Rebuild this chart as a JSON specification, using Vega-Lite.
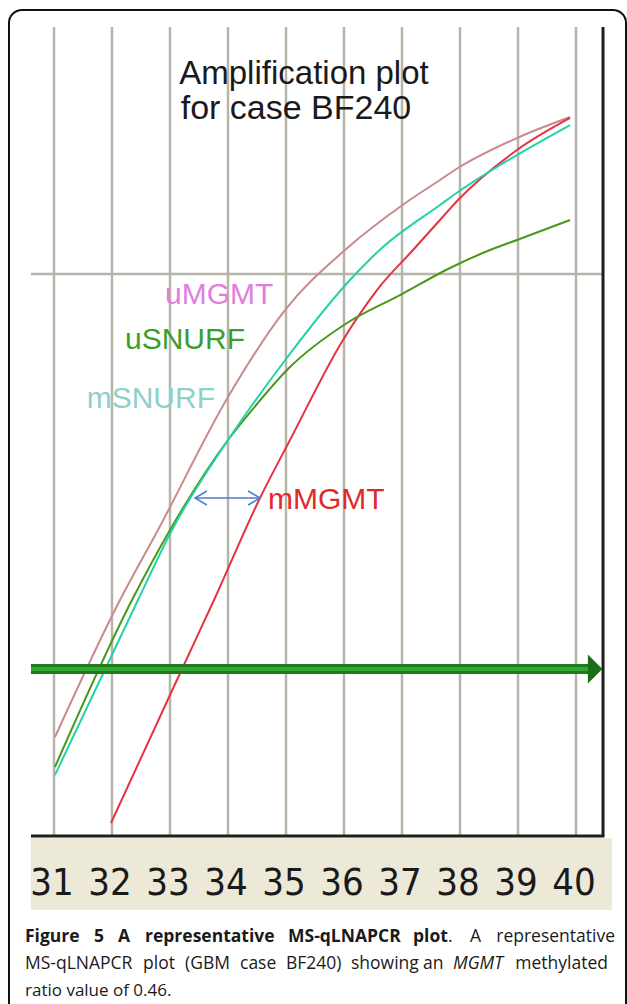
{
  "$schema": "https://vega.github.io/schema/vega-lite/v6.json",
  "width": 627,
  "height": 1004,
  "autosize": "none",
  "padding": 0,
  "background": "white",
  "config": {"view": {"stroke": null}},
  "datasets": {
    "curves": [
      {"series": "uMGMT", "cycle": 31.017, "value": 1.762},
      {"series": "uMGMT", "cycle": 32.138, "value": 4.199},
      {"series": "uMGMT", "cycle": 32.793, "value": 5.445},
      {"series": "uMGMT", "cycle": 34.0, "value": 7.811},
      {"series": "uMGMT", "cycle": 34.983, "value": 9.359},
      {"series": "uMGMT", "cycle": 36.017, "value": 10.427},
      {"series": "uMGMT", "cycle": 37.034, "value": 11.246},
      {"series": "uMGMT", "cycle": 37.655, "value": 11.673},
      {"series": "uMGMT", "cycle": 37.966, "value": 11.886},
      {"series": "uMGMT", "cycle": 38.983, "value": 12.42},
      {"series": "uMGMT", "cycle": 39.897, "value": 12.794},
      {"series": "mMGMT", "cycle": 31.983, "value": 0.231},
      {"series": "mMGMT", "cycle": 33.207, "value": 2.972},
      {"series": "mMGMT", "cycle": 33.759, "value": 4.199},
      {"series": "mMGMT", "cycle": 34.552, "value": 6.014},
      {"series": "mMGMT", "cycle": 35.069, "value": 7.046},
      {"series": "mMGMT", "cycle": 35.983, "value": 8.826},
      {"series": "mMGMT", "cycle": 36.569, "value": 9.715},
      {"series": "mMGMT", "cycle": 37.19, "value": 10.427},
      {"series": "mMGMT", "cycle": 37.655, "value": 10.961},
      {"series": "mMGMT", "cycle": 37.966, "value": 11.317},
      {"series": "mMGMT", "cycle": 38.983, "value": 12.206},
      {"series": "mMGMT", "cycle": 39.897, "value": 12.776},
      {"series": "uSNURF", "cycle": 31.017, "value": 1.228},
      {"series": "uSNURF", "cycle": 32.345, "value": 4.199},
      {"series": "uSNURF", "cycle": 33.0, "value": 5.445},
      {"series": "uSNURF", "cycle": 34.0, "value": 7.046},
      {"series": "uSNURF", "cycle": 34.5, "value": 7.687},
      {"series": "uSNURF", "cycle": 35.017, "value": 8.292},
      {"series": "uSNURF", "cycle": 36.052, "value": 9.128},
      {"series": "uSNURF", "cycle": 36.966, "value": 9.626},
      {"series": "uSNURF", "cycle": 37.828, "value": 10.107},
      {"series": "uSNURF", "cycle": 38.517, "value": 10.427},
      {"series": "uSNURF", "cycle": 38.983, "value": 10.605},
      {"series": "uSNURF", "cycle": 39.897, "value": 10.961},
      {"series": "mSNURF", "cycle": 31.017, "value": 1.085},
      {"series": "mSNURF", "cycle": 32.448, "value": 4.199},
      {"series": "mSNURF", "cycle": 33.034, "value": 5.445},
      {"series": "mSNURF", "cycle": 34.0, "value": 7.046},
      {"series": "mSNURF", "cycle": 34.948, "value": 8.416},
      {"series": "mSNURF", "cycle": 36.103, "value": 9.893},
      {"series": "mSNURF", "cycle": 36.672, "value": 10.48},
      {"series": "mSNURF", "cycle": 37.655, "value": 11.228},
      {"series": "mSNURF", "cycle": 37.966, "value": 11.459},
      {"series": "mSNURF", "cycle": 38.983, "value": 12.117},
      {"series": "mSNURF", "cycle": 39.897, "value": 12.651}
    ],
    "ticks": [
      {"cycle": 31}, {"cycle": 32}, {"cycle": 33}, {"cycle": 34}, {"cycle": 35},
      {"cycle": 36}, {"cycle": 37}, {"cycle": 38}, {"cycle": 39}, {"cycle": 40}
    ]
  },
  "layer": [
    {
      "data": {"values": [{}]},
      "mark": {"type": "rect", "color": "#ece9d8"},
      "encoding": {
        "x": {"datum": 30.603, "scale": {"domain": [30.06897, 40.87931], "nice": false, "zero": false}, "axis": null},
        "x2": {"datum": 40.621},
        "y": {"datum": -0.036, "scale": {"domain": [-2.98932, 14.87544], "nice": false, "zero": false}, "axis": null},
        "y2": {"datum": -1.317}
      }
    },
    {
      "data": {"name": "ticks"},
      "mark": {"type": "rule", "color": "#b6b5aa", "strokeWidth": 2.5},
      "encoding": {
        "x": {"field": "cycle", "type": "quantitative", "scale": {"domain": [30.06897, 40.87931], "nice": false, "zero": false}, "axis": null},
        "y": {"datum": 0, "scale": {"domain": [-2.98932, 14.87544], "nice": false, "zero": false}, "axis": null},
        "y2": {"datum": 14.395}
      }
    },
    {
      "data": {"values": [{}]},
      "mark": {"type": "rule", "color": "#b6b5aa", "strokeWidth": 2.5},
      "encoding": {
        "x": {"datum": 30.603, "scale": {"domain": [30.06897, 40.87931], "nice": false, "zero": false}, "axis": null},
        "x2": {"datum": 40.466},
        "y": {"datum": 10, "scale": {"domain": [-2.98932, 14.87544], "nice": false, "zero": false}, "axis": null}
      }
    },
    {
      "data": {"values": [{}]},
      "mark": {"type": "rule", "color": "#1e1e1e", "strokeWidth": 3},
      "encoding": {
        "x": {"datum": 30.603, "scale": {"domain": [30.06897, 40.87931], "nice": false, "zero": false}, "axis": null},
        "x2": {"datum": 40.49},
        "y": {"datum": 0, "scale": {"domain": [-2.98932, 14.87544], "nice": false, "zero": false}, "axis": null}
      }
    },
    {
      "data": {"values": [{}]},
      "mark": {"type": "rule", "color": "#1e1e1e", "strokeWidth": 3},
      "encoding": {
        "x": {"datum": 40.466, "scale": {"domain": [30.06897, 40.87931], "nice": false, "zero": false}, "axis": null},
        "y": {"datum": 0, "scale": {"domain": [-2.98932, 14.87544], "nice": false, "zero": false}, "axis": null},
        "y2": {"datum": 14.395}
      }
    },
    {
      "data": {"name": "curves"},
      "mark": {"type": "line", "strokeWidth": 2, "interpolate": "monotone"},
      "encoding": {
        "x": {"field": "cycle", "type": "quantitative", "scale": {"domain": [30.06897, 40.87931], "nice": false, "zero": false}, "axis": null},
        "y": {"field": "value", "type": "quantitative", "scale": {"domain": [-2.98932, 14.87544], "nice": false, "zero": false}, "axis": null},
        "color": {"field": "series", "type": "nominal", "scale": {"domain": ["uMGMT", "mMGMT", "uSNURF", "mSNURF"], "range": ["#c98a8c", "#e63242", "#4a981a", "#22d2a8"]}, "legend": null}
      }
    },
    {
      "data": {"values": [{}]},
      "mark": {"type": "rule", "color": "#1d7a1d", "strokeWidth": 10},
      "encoding": {
        "x": {"datum": 30.603, "scale": {"domain": [30.06897, 40.87931], "nice": false, "zero": false}, "axis": null},
        "x2": {"datum": 40.276},
        "y": {"datum": 2.972, "scale": {"domain": [-2.98932, 14.87544], "nice": false, "zero": false}, "axis": null}
      }
    },
    {
      "data": {"values": [{}]},
      "mark": {"type": "rule", "color": "#34a834", "strokeWidth": 4},
      "encoding": {
        "x": {"datum": 30.603, "scale": {"domain": [30.06897, 40.87931], "nice": false, "zero": false}, "axis": null},
        "x2": {"datum": 40.25},
        "y": {"datum": 2.972, "scale": {"domain": [-2.98932, 14.87544], "nice": false, "zero": false}, "axis": null}
      }
    },
    {
      "data": {"values": [{}]},
      "mark": {"type": "point", "shape": "M -0.5 -1 L 0.5 0 L -0.5 1 Z", "filled": true, "color": "#1a6e1a", "opacity": 1, "size": 841},
      "encoding": {
        "x": {"datum": 40.33, "scale": {"domain": [30.06897, 40.87931], "nice": false, "zero": false}, "axis": null},
        "y": {"datum": 2.972, "scale": {"domain": [-2.98932, 14.87544], "nice": false, "zero": false}, "axis": null}
      }
    },
    {
      "data": {"values": [{}]},
      "mark": {"type": "rule", "color": "#4a7cc8", "strokeWidth": 1.5},
      "encoding": {
        "x": {"datum": 33.431, "scale": {"domain": [30.06897, 40.87931], "nice": false, "zero": false}, "axis": null},
        "x2": {"datum": 34.552},
        "y": {"datum": 6.014, "scale": {"domain": [-2.98932, 14.87544], "nice": false, "zero": false}, "axis": null}
      }
    },
    {
      "data": {"values": [{}]},
      "mark": {"type": "point", "shape": "M 1.7 -1 L 0 0 L 1.7 1", "filled": false, "color": "#4a7cc8", "opacity": 1, "strokeWidth": 1.5, "size": 196},
      "encoding": {
        "x": {"datum": 33.431, "scale": {"domain": [30.06897, 40.87931], "nice": false, "zero": false}, "axis": null},
        "y": {"datum": 6.014, "scale": {"domain": [-2.98932, 14.87544], "nice": false, "zero": false}, "axis": null}
      }
    },
    {
      "data": {"values": [{}]},
      "mark": {"type": "point", "shape": "M -1.7 -1 L 0 0 L -1.7 1", "filled": false, "color": "#4a7cc8", "opacity": 1, "strokeWidth": 1.5, "size": 196},
      "encoding": {
        "x": {"datum": 34.552, "scale": {"domain": [30.06897, 40.87931], "nice": false, "zero": false}, "axis": null},
        "y": {"datum": 6.014, "scale": {"domain": [-2.98932, 14.87544], "nice": false, "zero": false}, "axis": null}
      }
    },
    {
      "data": {"values": [{}]},
      "mark": {"type": "text", "text": "Amplification plot", "font": "Liberation Sans", "fontSize": 33, "color": "#1a1a1a", "align": "center", "baseline": "alphabetic"},
      "encoding": {
        "x": {"datum": 35.31, "scale": {"domain": [30.06897, 40.87931], "nice": false, "zero": false}, "axis": null},
        "y": {"datum": 13.381, "scale": {"domain": [-2.98932, 14.87544], "nice": false, "zero": false}, "axis": null}
      }
    },
    {
      "data": {"values": [{}]},
      "mark": {"type": "text", "text": "for case BF240", "font": "Liberation Sans", "fontSize": 34, "color": "#1a1a1a", "align": "center", "baseline": "alphabetic"},
      "encoding": {
        "x": {"datum": 35.172, "scale": {"domain": [30.06897, 40.87931], "nice": false, "zero": false}, "axis": null},
        "y": {"datum": 12.758, "scale": {"domain": [-2.98932, 14.87544], "nice": false, "zero": false}, "axis": null}
      }
    },
    {
      "data": {"values": [{}]},
      "mark": {"type": "text", "text": "uMGMT", "font": "Liberation Sans", "fontSize": 30, "color": "#e07ee0", "align": "left", "baseline": "alphabetic"},
      "encoding": {
        "x": {"datum": 32.914, "scale": {"domain": [30.06897, 40.87931], "nice": false, "zero": false}, "axis": null},
        "y": {"datum": 9.466, "scale": {"domain": [-2.98932, 14.87544], "nice": false, "zero": false}, "axis": null}
      }
    },
    {
      "data": {"values": [{}]},
      "mark": {"type": "text", "text": "uSNURF", "font": "Liberation Sans", "fontSize": 30, "color": "#3c9e2a", "align": "left", "baseline": "alphabetic"},
      "encoding": {
        "x": {"datum": 32.224, "scale": {"domain": [30.06897, 40.87931], "nice": false, "zero": false}, "axis": null},
        "y": {"datum": 8.665, "scale": {"domain": [-2.98932, 14.87544], "nice": false, "zero": false}, "axis": null}
      }
    },
    {
      "data": {"values": [{}]},
      "mark": {"type": "text", "text": "mSNURF", "font": "Liberation Sans", "fontSize": 30, "color": "#8fd0c8", "align": "right", "baseline": "alphabetic"},
      "encoding": {
        "x": {"datum": 33.776, "scale": {"domain": [30.06897, 40.87931], "nice": false, "zero": false}, "axis": null},
        "y": {"datum": 7.616, "scale": {"domain": [-2.98932, 14.87544], "nice": false, "zero": false}, "axis": null}
      }
    },
    {
      "data": {"values": [{}]},
      "mark": {"type": "text", "text": "mMGMT", "font": "Liberation Sans", "fontSize": 30, "color": "#e02a2a", "align": "left", "baseline": "alphabetic"},
      "encoding": {
        "x": {"datum": 34.69, "scale": {"domain": [30.06897, 40.87931], "nice": false, "zero": false}, "axis": null},
        "y": {"datum": 5.819, "scale": {"domain": [-2.98932, 14.87544], "nice": false, "zero": false}, "axis": null}
      }
    },
    {
      "data": {"name": "ticks"},
      "mark": {"type": "text", "font": "DejaVu Sans Condensed, Liberation Sans", "fontSize": 38, "color": "#1a1a1a", "align": "center", "baseline": "alphabetic", "dx": -2},
      "encoding": {
        "x": {"field": "cycle", "type": "quantitative", "scale": {"domain": [30.06897, 40.87931], "nice": false, "zero": false}, "axis": null},
        "y": {"datum": -1.05, "scale": {"domain": [-2.98932, 14.87544], "nice": false, "zero": false}, "axis": null},
        "text": {"field": "cycle", "type": "quantitative"}
      }
    },
    {
      "data": {"values": [{}]},
      "mark": {"type": "text", "text": "Figure", "font": "Open Sans", "fontWeight": "bold", "fontSize": 17.5, "color": "#1a1a1a", "align": "left", "baseline": "alphabetic"},
      "encoding": {
        "x": {"datum": 30.5, "scale": {"domain": [30.06897, 40.87931], "nice": false, "zero": false}, "axis": null},
        "y": {"datum": -1.886, "scale": {"domain": [-2.98932, 14.87544], "nice": false, "zero": false}, "axis": null}
      }
    },
    {
      "data": {"values": [{}]},
      "mark": {"type": "text", "text": "5", "font": "Open Sans", "fontWeight": "bold", "fontSize": 17.5, "color": "#1a1a1a", "align": "left", "baseline": "alphabetic"},
      "encoding": {
        "x": {"datum": 31.6897, "scale": {"domain": [30.06897, 40.87931], "nice": false, "zero": false}, "axis": null},
        "y": {"datum": -1.886, "scale": {"domain": [-2.98932, 14.87544], "nice": false, "zero": false}, "axis": null}
      }
    },
    {
      "data": {"values": [{}]},
      "mark": {"type": "text", "text": "A", "font": "Open Sans", "fontWeight": "bold", "fontSize": 17.5, "color": "#1a1a1a", "align": "left", "baseline": "alphabetic"},
      "encoding": {
        "x": {"datum": 32.1034, "scale": {"domain": [30.06897, 40.87931], "nice": false, "zero": false}, "axis": null},
        "y": {"datum": -1.886, "scale": {"domain": [-2.98932, 14.87544], "nice": false, "zero": false}, "axis": null}
      }
    },
    {
      "data": {"values": [{}]},
      "mark": {"type": "text", "text": "representative", "font": "Open Sans", "fontWeight": "bold", "fontSize": 17.5, "color": "#1a1a1a", "align": "left", "baseline": "alphabetic"},
      "encoding": {
        "x": {"datum": 32.569, "scale": {"domain": [30.06897, 40.87931], "nice": false, "zero": false}, "axis": null},
        "y": {"datum": -1.886, "scale": {"domain": [-2.98932, 14.87544], "nice": false, "zero": false}, "axis": null}
      }
    },
    {
      "data": {"values": [{}]},
      "mark": {"type": "text", "text": "MS-qLNAPCR", "font": "Open Sans", "fontWeight": "bold", "fontSize": 17.5, "color": "#1a1a1a", "align": "left", "baseline": "alphabetic"},
      "encoding": {
        "x": {"datum": 35.0345, "scale": {"domain": [30.06897, 40.87931], "nice": false, "zero": false}, "axis": null},
        "y": {"datum": -1.886, "scale": {"domain": [-2.98932, 14.87544], "nice": false, "zero": false}, "axis": null}
      }
    },
    {
      "data": {"values": [{}]},
      "mark": {"type": "text", "text": "plot", "font": "Open Sans", "fontWeight": "bold", "fontSize": 17.5, "color": "#1a1a1a", "align": "left", "baseline": "alphabetic"},
      "encoding": {
        "x": {"datum": 37.1897, "scale": {"domain": [30.06897, 40.87931], "nice": false, "zero": false}, "axis": null},
        "y": {"datum": -1.886, "scale": {"domain": [-2.98932, 14.87544], "nice": false, "zero": false}, "axis": null}
      }
    },
    {
      "data": {"values": [{}]},
      "mark": {"type": "text", "text": ".", "font": "Open Sans", "fontSize": 17.5, "color": "#1a1a1a", "align": "left", "baseline": "alphabetic"},
      "encoding": {
        "x": {"datum": 37.7931, "scale": {"domain": [30.06897, 40.87931], "nice": false, "zero": false}, "axis": null},
        "y": {"datum": -1.886, "scale": {"domain": [-2.98932, 14.87544], "nice": false, "zero": false}, "axis": null}
      }
    },
    {
      "data": {"values": [{}]},
      "mark": {"type": "text", "text": "A", "font": "Open Sans", "fontSize": 17.5, "color": "#1a1a1a", "align": "left", "baseline": "alphabetic"},
      "encoding": {
        "x": {"datum": 38.1724, "scale": {"domain": [30.06897, 40.87931], "nice": false, "zero": false}, "axis": null},
        "y": {"datum": -1.886, "scale": {"domain": [-2.98932, 14.87544], "nice": false, "zero": false}, "axis": null}
      }
    },
    {
      "data": {"values": [{}]},
      "mark": {"type": "text", "text": "representative", "font": "Open Sans", "fontSize": 17.5, "color": "#1a1a1a", "align": "right", "baseline": "alphabetic"},
      "encoding": {
        "x": {"datum": 40.6724, "scale": {"domain": [30.06897, 40.87931], "nice": false, "zero": false}, "axis": null},
        "y": {"datum": -1.886, "scale": {"domain": [-2.98932, 14.87544], "nice": false, "zero": false}, "axis": null}
      }
    },
    {
      "data": {"values": [{}]},
      "mark": {"type": "text", "text": "MS-qLNAPCR", "font": "Open Sans", "fontSize": 17.5, "color": "#1a1a1a", "align": "left", "baseline": "alphabetic"},
      "encoding": {
        "x": {"datum": 30.5, "scale": {"domain": [30.06897, 40.87931], "nice": false, "zero": false}, "axis": null},
        "y": {"datum": -2.367, "scale": {"domain": [-2.98932, 14.87544], "nice": false, "zero": false}, "axis": null}
      }
    },
    {
      "data": {"values": [{}]},
      "mark": {"type": "text", "text": "plot", "font": "Open Sans", "fontSize": 17.5, "color": "#1a1a1a", "align": "left", "baseline": "alphabetic"},
      "encoding": {
        "x": {"datum": 32.5345, "scale": {"domain": [30.06897, 40.87931], "nice": false, "zero": false}, "axis": null},
        "y": {"datum": -2.367, "scale": {"domain": [-2.98932, 14.87544], "nice": false, "zero": false}, "axis": null}
      }
    },
    {
      "data": {"values": [{}]},
      "mark": {"type": "text", "text": "(GBM", "font": "Open Sans", "fontSize": 17.5, "color": "#1a1a1a", "align": "left", "baseline": "alphabetic"},
      "encoding": {
        "x": {"datum": 33.2586, "scale": {"domain": [30.06897, 40.87931], "nice": false, "zero": false}, "axis": null},
        "y": {"datum": -2.367, "scale": {"domain": [-2.98932, 14.87544], "nice": false, "zero": false}, "axis": null}
      }
    },
    {
      "data": {"values": [{}]},
      "mark": {"type": "text", "text": "case", "font": "Open Sans", "fontSize": 17.5, "color": "#1a1a1a", "align": "left", "baseline": "alphabetic"},
      "encoding": {
        "x": {"datum": 34.2069, "scale": {"domain": [30.06897, 40.87931], "nice": false, "zero": false}, "axis": null},
        "y": {"datum": -2.367, "scale": {"domain": [-2.98932, 14.87544], "nice": false, "zero": false}, "axis": null}
      }
    },
    {
      "data": {"values": [{}]},
      "mark": {"type": "text", "text": "BF240)", "font": "Open Sans", "fontSize": 17.5, "color": "#1a1a1a", "align": "left", "baseline": "alphabetic"},
      "encoding": {
        "x": {"datum": 35.0, "scale": {"domain": [30.06897, 40.87931], "nice": false, "zero": false}, "axis": null},
        "y": {"datum": -2.367, "scale": {"domain": [-2.98932, 14.87544], "nice": false, "zero": false}, "axis": null}
      }
    },
    {
      "data": {"values": [{}]},
      "mark": {"type": "text", "text": "showing", "font": "Open Sans", "fontSize": 17.5, "color": "#1a1a1a", "align": "left", "baseline": "alphabetic"},
      "encoding": {
        "x": {"datum": 36.1207, "scale": {"domain": [30.06897, 40.87931], "nice": false, "zero": false}, "axis": null},
        "y": {"datum": -2.367, "scale": {"domain": [-2.98932, 14.87544], "nice": false, "zero": false}, "axis": null}
      }
    },
    {
      "data": {"values": [{}]},
      "mark": {"type": "text", "text": "an", "font": "Open Sans", "fontSize": 17.5, "color": "#1a1a1a", "align": "left", "baseline": "alphabetic"},
      "encoding": {
        "x": {"datum": 37.3621, "scale": {"domain": [30.06897, 40.87931], "nice": false, "zero": false}, "axis": null},
        "y": {"datum": -2.367, "scale": {"domain": [-2.98932, 14.87544], "nice": false, "zero": false}, "axis": null}
      }
    },
    {
      "data": {"values": [{}]},
      "mark": {"type": "text", "text": "MGMT", "font": "Open Sans", "fontStyle": "italic", "fontSize": 17.5, "color": "#1a1a1a", "align": "left", "baseline": "alphabetic"},
      "encoding": {
        "x": {"datum": 37.8793, "scale": {"domain": [30.06897, 40.87931], "nice": false, "zero": false}, "axis": null},
        "y": {"datum": -2.367, "scale": {"domain": [-2.98932, 14.87544], "nice": false, "zero": false}, "axis": null}
      }
    },
    {
      "data": {"values": [{}]},
      "mark": {"type": "text", "text": "methylated", "font": "Open Sans", "fontSize": 17.5, "color": "#1a1a1a", "align": "right", "baseline": "alphabetic"},
      "encoding": {
        "x": {"datum": 40.5517, "scale": {"domain": [30.06897, 40.87931], "nice": false, "zero": false}, "axis": null},
        "y": {"datum": -2.367, "scale": {"domain": [-2.98932, 14.87544], "nice": false, "zero": false}, "axis": null}
      }
    },
    {
      "data": {"values": [{}]},
      "mark": {"type": "text", "text": "ratio value of 0.46.", "font": "Open Sans", "fontSize": 17, "color": "#1a1a1a", "align": "left", "baseline": "alphabetic"},
      "encoding": {
        "x": {"datum": 30.5, "scale": {"domain": [30.06897, 40.87931], "nice": false, "zero": false}, "axis": null},
        "y": {"datum": -2.847, "scale": {"domain": [-2.98932, 14.87544], "nice": false, "zero": false}, "axis": null}
      }
    },
    {
      "data": {"values": [{}]},
      "mark": {"type": "rect", "filled": false, "color": "#111111", "strokeWidth": 2, "cornerRadius": 13},
      "encoding": {
        "x": {"datum": 30.224, "scale": {"domain": [30.06897, 40.87931], "nice": false, "zero": false}, "axis": null},
        "x2": {"datum": 40.862},
        "y": {"datum": 14.698, "scale": {"domain": [-2.98932, 14.87544], "nice": false, "zero": false}, "axis": null},
        "y2": {"datum": -3.274}
      }
    }
  ]
}
